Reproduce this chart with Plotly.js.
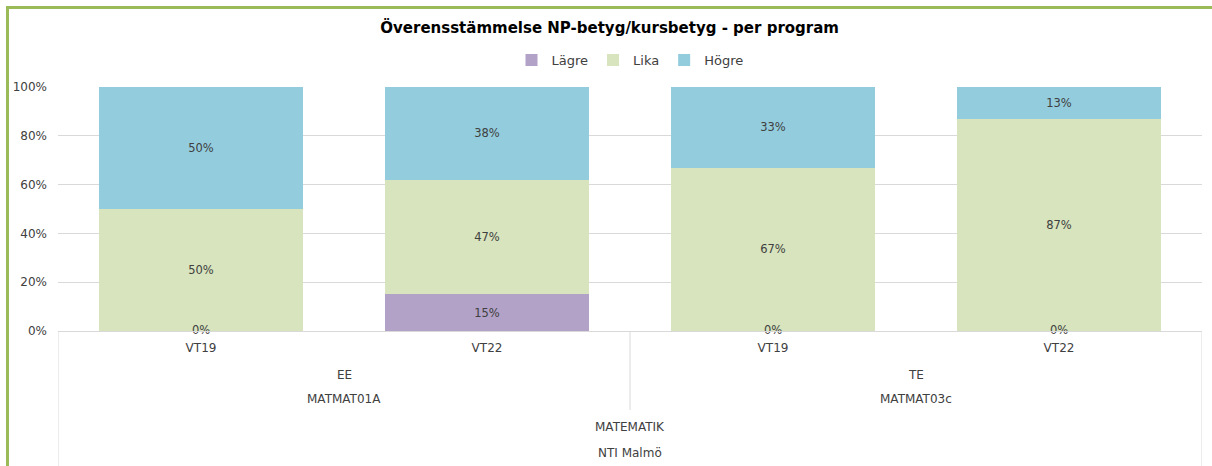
<!DOCTYPE html>
<html>
<head>
<meta charset="utf-8">
<script src="https://cdn.plot.ly/plotly-3.0.1.min.js"></script>
<style>
html,body{margin:0;padding:0;background:#fff;overflow:hidden;}
#wrap{position:relative;width:1212px;height:466px;}
#chart{position:absolute;left:0;top:0;width:1212px;height:466px;}
#frame{position:absolute;left:6px;top:6px;width:1400px;height:600px;border-left:3px solid #9bbb59;border-top:3px solid #9bbb59;pointer-events:none;}
</style>
</head>
<body>
<div id="wrap"><div id="chart"></div><div id="frame"></div></div>
<script>
// Data
const periods = ['VT19', 'VT22', 'VT19', 'VT22'];
const programs = ['EE', 'TE'];
const courses = ['MATMAT01A', 'MATMAT03c'];
const subject = 'MATEMATIK';
const school = 'NTI Malmö';
const lagre = [0, 15, 0, 0];
const lika = [50, 47, 67, 87];
const hogre = [50, 38, 33, 13];
const seriesNames = ['Lägre', 'Lika', 'Högre'];
const colors = ['#b2a2c7', '#d7e4bd', '#93cddd'];

const xs = periods.map((_, i) => i);
const txtFont = {family: 'DejaVu Sans, sans-serif', size: 11.5, color: '#404040'};

function barTrace(vals, name, color) {
  return {
    type: 'bar', x: xs, y: vals.map(v => v / 100), name: name,
    marker: {color: color},
    text: vals.map(v => v + '%'),
    textposition: vals.map(v => (v > 0) ? 'inside' : 'none'),
    insidetextanchor: 'middle',
    textfont: txtFont,
    hoverinfo: 'skip'
  };
}

const zeroIdx = xs.filter(i => lagre[i] === 0);
const traces = [
  barTrace(lagre, seriesNames[0], colors[0]),
  barTrace(lika, seriesNames[1], colors[1]),
  barTrace(hogre, seriesNames[2], colors[2]),
  {
    type: 'scatter', mode: 'text', showlegend: false, hoverinfo: 'skip',
    x: zeroIdx,
    y: zeroIdx.map(i => lagre[i] / 100),
    text: zeroIdx.map(i => lagre[i] + '%'),
    textposition: 'middle center',
    textfont: txtFont,
    cliponaxis: false
  }
];

const lineCol = '#d9d9d9';
const axFont = {family: 'DejaVu Sans, sans-serif', size: 12, color: '#404040'};
const shapes = [
  {type: 'line', xref: 'x', yref: 'paper', x0: -0.5, x1: -0.5, y0: 0, y1: -0.56, line: {color: lineCol, width: 1}},
  {type: 'line', xref: 'x', yref: 'paper', x0: 1.5, x1: 1.5, y0: 0, y1: -0.324, line: {color: lineCol, width: 1}},
  {type: 'line', xref: 'x', yref: 'paper', x0: 3.5, x1: 3.5, y0: 0, y1: -0.56, line: {color: lineCol, width: 1}}
];
const annotations = [];
programs.forEach((p, i) => {
  annotations.push({xref: 'x', yref: 'paper', x: 0.5 + 2 * i, y: -0.18, text: p, showarrow: false, font: axFont, yanchor: 'middle'});
  annotations.push({xref: 'x', yref: 'paper', x: 0.5 + 2 * i, y: -0.279, text: courses[i], showarrow: false, font: axFont, yanchor: 'middle'});
});
annotations.push({xref: 'x', yref: 'paper', x: 1.5, y: -0.393, text: subject, showarrow: false, font: axFont, yanchor: 'middle'});
annotations.push({xref: 'x', yref: 'paper', x: 1.5, y: -0.5, text: school, showarrow: false, font: axFont, yanchor: 'middle'});

const layout = {
  width: 1212, height: 466,
  margin: {l: 58, r: 10, t: 87, b: 135},
  paper_bgcolor: '#ffffff', plot_bgcolor: '#ffffff',
  barmode: 'stack', bargap: 0.29,
  title: {text: '<b>Överensstämmelse NP-betyg/kursbetyg - per program</b>', x: 0.503, xanchor: 'center', y: 0.94, yanchor: 'middle',
          font: {family: 'DejaVu Sans, sans-serif', size: 15, color: '#000000'}},
  showlegend: true,
  legend: {orientation: 'h', x: 0.5, xanchor: 'center', y: 1.11, yanchor: 'middle',
           font: {family: 'DejaVu Sans, sans-serif', size: 13, color: '#404040'}, traceorder: 'normal', itemwidth: 30},
  xaxis: {
    range: [-0.5, 3.5], tickvals: xs, ticktext: periods, showgrid: false, zeroline: false,
    showline: true, linecolor: lineCol, linewidth: 1, ticks: '', tickfont: axFont, ticklabelstandoff: 6,
    fixedrange: true
  },
  yaxis: {
    range: [0, 1], tickvals: [0, 0.2, 0.4, 0.6, 0.8, 1], ticktext: ['0%', '20%', '40%', '60%', '80%', '100%'],
    showgrid: true, gridcolor: lineCol, gridwidth: 1, zeroline: false, showline: false, ticks: '',
    tickfont: axFont, ticklabelstandoff: 10, fixedrange: true
  },
  shapes: shapes,
  annotations: annotations
};

Plotly.newPlot('chart', traces, layout, {displayModeBar: false, staticPlot: true});
</script>
</body>
</html>
